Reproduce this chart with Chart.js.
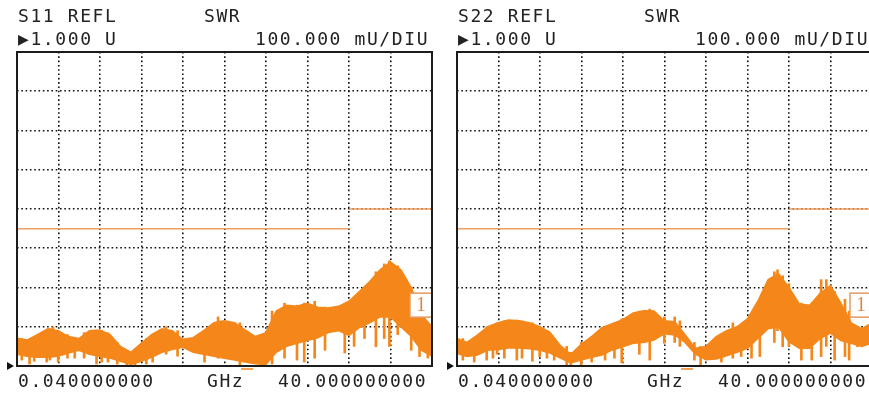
<!DOCTYPE html>
<html>
<head>
<meta charset="utf-8">
<script src="https://cdn.jsdelivr.net/npm/chart.js@4.4.1/dist/chart.umd.min.js"></script>
<style>
  html, body { margin: 0; padding: 0; background: #fff; overflow: hidden; }
  body { width: 869px; height: 394px; position: relative; }
  .panel { position: absolute; top: 0; width: 440px; height: 394px; }
  .panel canvas { position: absolute; left: 0; top: 0; }
  .txt { position: absolute; font-family: "DejaVu Sans Mono", monospace; font-size: 18px; line-height: 18px;
         letter-spacing: 1.6px; color: #222; white-space: pre; }
</style>
</head>
<body>
<div class="panel" style="left:0">
  <canvas id="s11" width="440" height="394"></canvas>
  <div class="txt" style="left:18px;top:7px">S11 REFL</div>
  <div class="txt" style="left:204px;top:7px">SWR</div>
  <div class="txt" style="left:18px;top:30px">▶1.000 U</div>
  <div class="txt" style="left:255px;top:30px">100.000 mU/DIU</div>
  <div class="txt" style="left:18px;top:372px">0.040000000</div>
  <div class="txt" style="left:207px;top:372px">GHz</div>
  <div class="txt" style="left:278px;top:372px">40.000000000</div>
</div>
<div class="panel" style="left:440px">
  <canvas id="s22" width="440" height="394"></canvas>
  <div class="txt" style="left:18px;top:7px">S22 REFL</div>
  <div class="txt" style="left:204px;top:7px">SWR</div>
  <div class="txt" style="left:18px;top:30px">▶1.000 U</div>
  <div class="txt" style="left:255px;top:30px">100.000 mU/DIU</div>
  <div class="txt" style="left:18px;top:372px">0.040000000</div>
  <div class="txt" style="left:207px;top:372px">GHz</div>
  <div class="txt" style="left:278px;top:372px">40.000000000</div>
</div>
<script>
// sweep points (GHz), every 1 GHz
const freqGHz = [0.04, 1, 2, 3, 4, 5, 6, 7, 8, 9, 10, 11, 12, 13, 14, 15, 16, 17, 18, 19, 20,
                 21, 22, 23, 24, 25, 26, 27, 28, 29, 30, 31, 32, 33, 34, 35, 36, 37, 38, 39, 40];

// S11 SWR, top and bottom of the dense part of the trace
const s11Top = [1.071, 1.066, 1.080, 1.095, 1.090, 1.075, 1.070, 1.090, 1.092, 1.080, 1.050,
                1.035, 1.058, 1.080, 1.095, 1.090, 1.068, 1.072, 1.090, 1.110, 1.115,
                1.110, 1.092, 1.075, 1.085, 1.140, 1.155, 1.152, 1.160, 1.150, 1.148,
                1.152, 1.165, 1.190, 1.215, 1.245, 1.265, 1.245, 1.200, 1.130, 1.100];
const s11Bottom = [1.030, 1.025, 1.022, 1.022, 1.025, 1.033, 1.040, 1.030, 1.025, 1.020, 1.012,
                   1.004, 1.012, 1.022, 1.035, 1.042, 1.048, 1.035, 1.030, 1.025, 1.020,
                   1.015, 1.010, 1.006, 1.003, 1.035, 1.050, 1.058, 1.065, 1.072, 1.085,
                   1.090, 1.078, 1.098, 1.110, 1.125, 1.125, 1.100, 1.075, 1.040, 1.025];
// S11 single-sweep spikes: frequency, low end, high end
const s11SpikeFreq = [0.5, 1.25, 1.7, 2.9, 3.2, 3.5, 4.0, 4.9, 5.6, 6.5, 7.7, 8.2, 8.8, 9.7, 10.6, 11.4, 12.5, 13.1,
                      14.4, 15.5, 18.1, 19.4, 21.5, 23.6, 24.6, 25.8, 27.0, 27.7, 28.7, 29.7, 31.6, 32.5, 33.5,
                      34.6, 35.4, 35.9, 36.7, 38.0, 38.8, 39.6];
const s11SpikeLow = [1.015, 1.005, 1.012, 1.010, 1.015, 1.030, 1.010, 1.020, 1.020, 1.020, 1.005, 1.010, 1.010, 1.005, 1.000, 1.000, 1.005, 1.010,
                     1.030, 1.025, 1.010, 1.020, 1.000, 1.000, 1.005, 1.020, 1.015, 1.010, 1.020, 1.040, 1.033, 1.050, 1.070,
                     1.049, 1.070, 1.050, 1.080, 1.040, 1.024, 1.020];
const s11SpikeHigh = [1.070, 1.066, 1.070, 1.090, 1.095, 1.100, 1.090, 1.080, 1.070, 1.085, 1.090, 1.090, 1.085, 1.060, 1.040, 1.040, 1.070, 1.080,
                      1.100, 1.090, 1.090, 1.125, 1.110, 1.080, 1.140, 1.160, 1.155, 1.160, 1.165, 1.150, 1.155, 1.175, 1.200,
                      1.240, 1.260, 1.268, 1.255, 1.200, 1.150, 1.100];

// S22 SWR
const s22Top = [1.070, 1.060, 1.079, 1.100, 1.110, 1.117, 1.115, 1.110, 1.100, 1.086, 1.052,
                1.030, 1.055, 1.075, 1.098, 1.108, 1.118, 1.135, 1.141, 1.140, 1.115,
                1.113, 1.080, 1.045, 1.050, 1.075, 1.090, 1.100, 1.120, 1.165, 1.220,
                1.235, 1.200, 1.158, 1.155, 1.185, 1.205, 1.160, 1.110, 1.095, 1.110];
const s22Bottom = [1.032, 1.024, 1.028, 1.040, 1.042, 1.046, 1.046, 1.044, 1.040, 1.033, 1.020,
                   1.008, 1.015, 1.022, 1.028, 1.041, 1.049, 1.058, 1.060, 1.066, 1.082,
                   1.079, 1.060, 1.030, 1.016, 1.018, 1.026, 1.035, 1.045, 1.070, 1.095,
                   1.100, 1.062, 1.045, 1.045, 1.070, 1.084, 1.065, 1.058, 1.050, 1.058];
const s22SpikeFreq = [0.6, 1.7, 2.9, 3.5, 3.9, 4.6, 5.8, 6.3, 7.3, 8.0, 8.7, 9.4, 10.6, 11.0, 12.0, 13.0,
                      14.3, 15.2, 15.9, 17.6, 18.6, 20.0, 21.0, 21.5, 22.9, 23.5, 25.5, 26.6, 27.4, 28.4, 29.2,
                      30.6, 30.9, 31.4, 32.0, 33.2, 34.2, 35.1, 35.6, 36.4, 37.4, 37.8, 38.6];
const s22SpikeLow = [1.015, 1.010, 1.015, 1.020, 1.030, 1.020, 1.015, 1.020, 1.012, 1.024, 1.020, 1.015, 1.000, 1.000, 1.000, 1.010,
                     1.015, 1.020, 1.008, 1.030, 1.015, 1.058, 1.060, 1.050, 1.015, 1.000, 1.010, 1.020, 1.024, 1.020, 1.024,
                     1.060, 1.090, 1.049, 1.049, 1.015, 1.015, 1.024, 1.050, 1.015, 1.024, 1.015, 1.049];
const s22SpikeHigh = [1.070, 1.070, 1.100, 1.105, 1.110, 1.115, 1.117, 1.115, 1.110, 1.100, 1.090, 1.070, 1.050, 1.035, 1.060, 1.075,
                      1.100, 1.110, 1.120, 1.140, 1.145, 1.125, 1.125, 1.115, 1.060, 1.050, 1.080, 1.110, 1.105, 1.125, 1.170,
                      1.240, 1.245, 1.230, 1.210, 1.160, 1.160, 1.220, 1.220, 1.190, 1.170, 1.140, 1.100];

// limit lines
const limitLoFreq = [0.04, 32.0];
const limitLoSwr = [1.35, 1.35];
const limitHiFreq = [32.0, 40];
const limitHiSwr = [1.40, 1.40];

// graticule
const gridFreqs = [0.04, 4.036, 8.032, 12.028, 16.024, 20.02, 24.016, 28.012, 32.008, 36.004, 40];
const gridSwr = [1.0, 1.1, 1.2, 1.3, 1.4, 1.5, 1.6, 1.7, 1.8];

const refSwr = 1.0;
const marker1Swr = 1.155;
const markerFreq = 22.2;

const TRACE = '#f5871a';
const LIMIT = '#f0a060';

const pts = (xs, ys) => xs.map((x, i) => ({ x: x, y: ys[i] }));
const spans = (xs, lo, hi) => xs.map((x, i) => ({ x: x, y: [lo[i], hi[i]] }));

const frame = {
  id: 'frame',
  afterDatasetsDraw(chart) {
    const { ctx, chartArea: a, scales: { x, y } } = chart;
    ctx.save();
    // marker box "1"
    const my = y.getPixelForValue(marker1Swr);
    ctx.fillStyle = '#fff';
    ctx.fillRect(a.right - 22, my - 12, 22, 24);
    ctx.strokeStyle = '#e39a62';
    ctx.lineWidth = 1.5;
    ctx.strokeRect(a.right - 22, my - 12, 22, 24);
    ctx.fillStyle = '#d98a4a';
    ctx.font = '20px "Liberation Serif", serif';
    ctx.textAlign = 'center';
    ctx.textBaseline = 'middle';
    ctx.fillText('1', a.right - 11, my + 1);
    // outer box
    ctx.strokeStyle = '#1c1c1c';
    ctx.lineWidth = 2;
    ctx.strokeRect(a.left, a.top, a.right - a.left, a.bottom - a.top);
    // reference arrow
    const ry = y.getPixelForValue(refSwr);
    ctx.fillStyle = '#111';
    ctx.beginPath();
    ctx.moveTo(a.left - 10, ry - 4);
    ctx.lineTo(a.left - 10, ry + 4);
    ctx.lineTo(a.left - 3, ry);
    ctx.closePath();
    ctx.fill();
    // marker tick under axis
    const mx = x.getPixelForValue(markerFreq);
    ctx.strokeStyle = '#f4a257';
    ctx.lineWidth = 2;
    ctx.beginPath();
    ctx.moveTo(mx - 6, a.bottom + 3);
    ctx.lineTo(mx + 6, a.bottom + 3);
    ctx.stroke();
    ctx.restore();
  }
};

function makePlot(id, top, bottom, spikeF, spikeLo, spikeHi) {
  return new Chart(document.getElementById(id), {
    type: 'line',
    data: {
      datasets: [
        { data: pts(freqGHz, top), borderColor: TRACE, backgroundColor: TRACE, borderWidth: 1.5, fill: '+1' },
        { data: pts(freqGHz, bottom), borderColor: TRACE, borderWidth: 1.5, fill: false },
        { type: 'bar', data: spans(spikeF, spikeLo, spikeHi), backgroundColor: TRACE, barThickness: 2 },
        { data: pts(limitLoFreq, limitLoSwr), borderColor: LIMIT, borderWidth: 1.5, fill: false },
        { data: pts(limitHiFreq, limitHiSwr), borderColor: LIMIT, borderWidth: 1.5, fill: false }
      ]
    },
    options: {
      responsive: false,
      animation: false,
      devicePixelRatio: 1,
      layout: { padding: { left: 17, top: 52, right: 8, bottom: 28 } },
      elements: { point: { radius: 0 }, line: { tension: 0 } },
      plugins: { legend: { display: false }, tooltip: { enabled: false } },
      scales: {
        x: {
          type: 'linear', min: 0.04, max: 40, offset: false,
          afterBuildTicks: s => { s.ticks = gridFreqs.map(v => ({ value: v })); },
          ticks: { display: false },
          border: { display: false, dash: [1.6, 2.7] },
          grid: { color: '#111', lineWidth: 1.6, drawTicks: false, offset: false }
        },
        y: {
          type: 'linear', min: 1.0, max: 1.8,
          afterBuildTicks: s => { s.ticks = gridSwr.map(v => ({ value: v })); },
          ticks: { display: false },
          border: { display: false, dash: [1.6, 2.7] },
          grid: { color: '#111', lineWidth: 1.6, drawTicks: false }
        }
      }
    },
    plugins: [frame]
  });
}

makePlot('s11', s11Top, s11Bottom, s11SpikeFreq, s11SpikeLow, s11SpikeHigh);
makePlot('s22', s22Top, s22Bottom, s22SpikeFreq, s22SpikeLow, s22SpikeHigh);
</script>
</body>
</html>
